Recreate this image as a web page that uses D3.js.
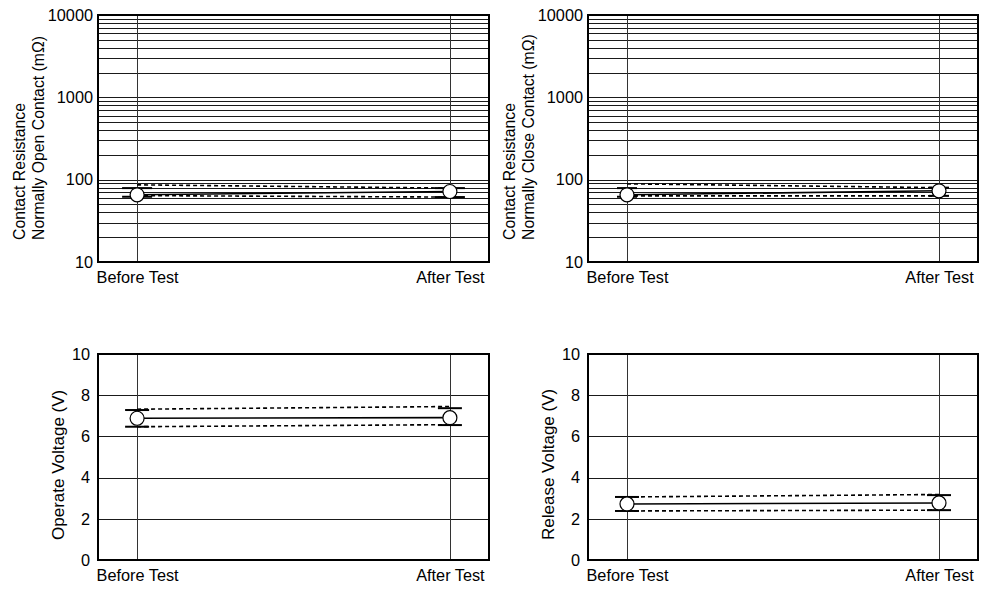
<!DOCTYPE html>
<html>
<head>
<meta charset="utf-8">
<script src="https://cdn.jsdelivr.net/npm/d3@7"></script>
<style>
  html, body { margin: 0; padding: 0; background: #fff; }
  svg { display: block; }
  text { font-family: "Liberation Sans", Arial, Helvetica, sans-serif; fill: #000; }
</style>
</head>
<body>
<svg id="chart" width="981" height="590"></svg>
<script>
// ---------------- DATA ----------------
const stages = ["Before Test", "After Test"];
const logTicks = [10, 100, 1000, 10000];
const linTicks = [0, 2, 4, 6, 8, 10];

// Contact resistance, normally open contact (mΩ)
const noMean   = [65.5, 71.8];
const noBarMax = [79, 79];
const noBarMin = [62, 61.5];
const noDashHi = [86.5, 79];
const noDashLo = [64, 61.5];

// Contact resistance, normally close contact (mΩ)
const ncMean   = [65.5, 73.2];
const ncBarMax = [79, 80];
const ncBarMin = [62, 63.6];
const ncDashHi = [89, 80];
const ncDashLo = [63.6, 63.6];

// Operate voltage (V)
const opMean   = [6.88, 6.91];
const opBarMax = [7.28, 7.37];
const opBarMin = [6.47, 6.55];
const opDashHi = [7.32, 7.45];
const opDashLo = [6.47, 6.57];

// Release voltage (V)
const relMean   = [2.72, 2.77];
const relBarMax = [3.06, 3.15];
const relBarMin = [2.38, 2.42];
const relDashHi = [3.06, 3.18];
const relDashLo = [2.38, 2.42];

// ---------------- LAYOUT ----------------
const panels = [
  { left: 98, right: 489, top: 15, bottom: 262, log: true,
    title: ["Contact Resistance", "Normally Open Contact (mΩ)"], titleX: [19, 38], titleY: 240, titleSize: 15.8,
    yPad: 5,
    mean: noMean, barMax: noBarMax, barMin: noBarMin, hi: noDashHi, lo: noDashLo, barHalf: 15 },
  { left: 588, right: 978, top: 15, bottom: 262, log: true,
    title: ["Contact Resistance", "Normally Close Contact (mΩ)"], titleX: [509, 528], titleY: 240, titleSize: 15.8,
    yPad: 5,
    mean: ncMean, barMax: ncBarMax, barMin: ncBarMin, hi: ncDashHi, lo: ncDashLo, barHalf: 10 },
  { left: 98, right: 489, top: 354, bottom: 560, log: false,
    title: ["Operate Voltage (V)"], titleX: [58], titleY: 540, titleSize: 17,
    yPad: 8,
    mean: opMean, barMax: opBarMax, barMin: opBarMin, hi: opDashHi, lo: opDashLo, barHalf: 12 },
  { left: 588, right: 978, top: 354, bottom: 560, log: false,
    title: ["Release Voltage (V)"], titleX: [548], titleY: 540, titleSize: 17,
    yPad: 8,
    mean: relMean, barMax: relBarMax, barMin: relBarMin, hi: relDashHi, lo: relDashLo, barHalf: 12 }
];

const svg = d3.select("#chart");
const tickFont = "16.3px";

panels.forEach(p => {
  const g = svg.append("g");
  const x = d3.scalePoint().domain(stages).range([p.left, p.right]).padding(0.125);
  const y = p.log
    ? d3.scaleLog().domain([10, 10000]).range([p.bottom, p.top])
    : d3.scaleLinear().domain([0, 10]).range([p.bottom, p.top]);

  // horizontal grid
  let gridVals;
  if (p.log) {
    gridVals = [];
    [10, 100, 1000].forEach(d => { for (let k = 2; k <= 9; k++) gridVals.push(d * k); });
    gridVals.push(100, 1000);
  } else {
    gridVals = linTicks.filter(v => v > 0 && v < 10);
  }
  g.selectAll(".hgrid").data(gridVals).enter().append("line")
    .attr("x1", p.left).attr("x2", p.right)
    .attr("y1", d => Math.round(y(d)) + 0.5).attr("y2", d => Math.round(y(d)) + 0.5)
    .attr("stroke", "#1a1a1a").attr("stroke-width", 1);

  // vertical grid at stages
  g.selectAll(".vgrid").data(stages).enter().append("line")
    .attr("x1", d => Math.round(x(d)) + 0.5).attr("x2", d => Math.round(x(d)) + 0.5)
    .attr("y1", p.top).attr("y2", p.bottom)
    .attr("stroke", "#333").attr("stroke-width", 1);

  // frame
  g.append("rect")
    .attr("x", p.left).attr("y", p.top)
    .attr("width", p.right - p.left).attr("height", p.bottom - p.top)
    .attr("fill", "none").attr("stroke", "#000").attr("stroke-width", 2);

  // y axis labels
  const yAxis = d3.axisLeft(y).tickSize(0).tickPadding(p.yPad)
    .tickValues(p.log ? logTicks : linTicks)
    .tickFormat(d3.format("d"));
  const ya = g.append("g").attr("transform", `translate(${p.left},0)`).call(yAxis);
  ya.select(".domain").remove();
  ya.selectAll("text").style("font-size", tickFont).attr("fill", "#000")
    .style("font-family", '"Liberation Sans", Arial, sans-serif');

  // x axis labels
  const xAxis = d3.axisBottom(x).tickSize(0).tickPadding(9);
  const xa = g.append("g").attr("transform", `translate(0,${p.bottom})`).call(xAxis);
  xa.select(".domain").remove();
  xa.selectAll("text").style("font-size", tickFont).attr("fill", "#000")
    .style("font-family", '"Liberation Sans", Arial, sans-serif');

  // y title
  p.title.forEach((t, i) => {
    g.append("text")
      .attr("transform", `translate(${p.titleX[i]},${p.titleY}) rotate(-90)`)
      .attr("text-anchor", "start")
      .attr("dominant-baseline", "central")
      .style("font-size", p.titleSize + "px")
      .text(t);
  });

  const pts = stages.map((s, i) => ({ s, mean: p.mean[i], max: p.barMax[i], min: p.barMin[i], hi: p.hi[i], lo: p.lo[i] }));

  // dashed range lines
  const mkLine = key => d3.line().x(d => x(d.s)).y(d => y(d[key]));
  ["hi", "lo"].forEach(k => {
    g.append("path").datum(pts).attr("d", mkLine(k))
      .attr("fill", "none").attr("stroke", "#000").attr("stroke-width", 1.6)
      .attr("stroke-dasharray", "4,3");
  });
  // solid mean line
  g.append("path").datum(pts).attr("d", mkLine("mean"))
    .attr("fill", "none").attr("stroke", "#000").attr("stroke-width", 1.6);

  // max / min bars
  ["max", "min"].forEach(k => {
    g.selectAll(".bar-" + k).data(pts).enter().append("line")
      .attr("x1", d => x(d.s) - p.barHalf).attr("x2", d => x(d.s) + p.barHalf)
      .attr("y1", d => y(d[k])).attr("y2", d => y(d[k]))
      .attr("stroke", "#000").attr("stroke-width", 2);
  });

  // mean circles
  g.selectAll(".mean").data(pts).enter().append("circle")
    .attr("cx", d => x(d.s)).attr("cy", d => y(d.mean)).attr("r", 7)
    .attr("fill", "#fff").attr("stroke", "#000").attr("stroke-width", 1.2);
});
</script>
</body>
</html>
